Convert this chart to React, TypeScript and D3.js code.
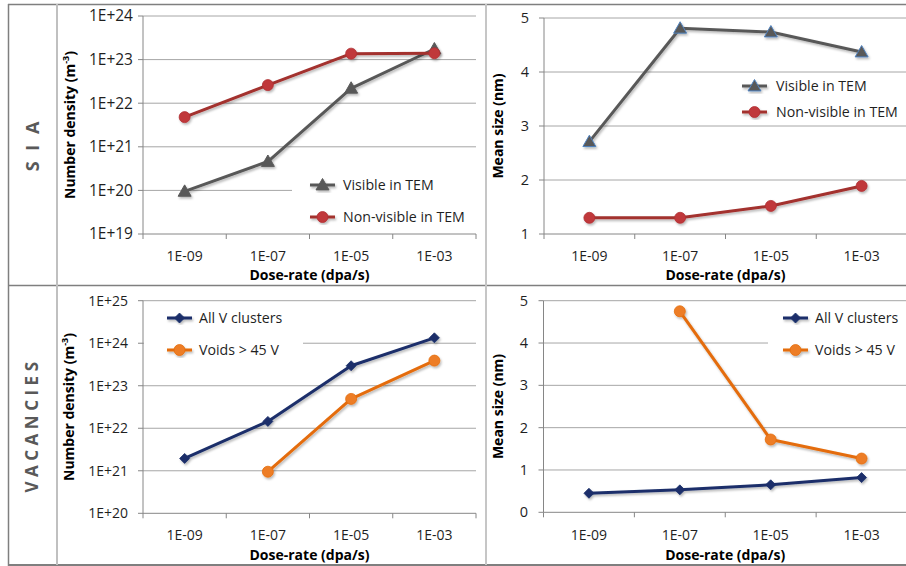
import React from "react";
import * as d3 from "d3";

const categories = ["1E-09", "1E-07", "1E-05", "1E-03"];

const siaDensityVisible = [9.5e19, 4.6e20, 2.2e22, 1.75e23];
const siaDensityNonVisible = [4.8e21, 2.6e22, 1.37e23, 1.4e23];
const siaSizeVisible = [2.71, 4.81, 4.74, 4.37];
const siaSizeNonVisible = [1.3, 1.3, 1.52, 1.89];

const vacDensityAll = [1.95e21, 1.45e22, 2.95e23, 1.34e24];
const vacDensityVoids = [null, 9.5e20, 4.9e22, 3.9e23];
const vacSizeAll = [0.45, 0.53, 0.65, 0.82];
const vacSizeVoids = [null, 4.75, 1.72, 1.27];

const siaDensityTicks = [1e19, 1e20, 1e21, 1e22, 1e23, 1e24];
const vacDensityTicks = [1e20, 1e21, 1e22, 1e23, 1e24, 1e25];
const sizeTicksSia = [1, 2, 3, 4, 5];
const sizeTicksVac = [0, 1, 2, 3, 4, 5];

const legendVisible = "Visible in TEM";
const legendNonVisible = "Non-visible in TEM";
const legendAll = "All V clusters";
const legendVoids = "Voids > 45 V";
const xTitle = "Dose-rate (dpa/s)";

const FONT = "'Open Sans', 'Liberation Sans', sans-serif";
const GRID = "#a6a6a6";
const AXIS = "#868686";
const TEXT = "#1f1f1f";

type Marker = "triangle" | "circle" | "diamond";
type Series = {
  name: string;
  values: (number | null)[];
  line: string;
  fill: string;
  stroke: string;
  marker: Marker;
};

const fmtExp = (v: number) => "1E+" + Math.round(Math.log10(v));

function MarkerShape({ kind, x, y, fill, stroke }: { kind: Marker; x: number; y: number; fill: string; stroke: string }) {
  if (kind === "circle") return <circle cx={x} cy={y} r={5.5} fill={fill} stroke={stroke} strokeWidth={0.8} />;
  if (kind === "triangle") {
    const s = 6.5;
    return (
      <path
        d={`M${x},${y - s} L${x + s},${y + s * 0.75} L${x - s},${y + s * 0.75} Z`}
        fill={fill}
        stroke={stroke}
        strokeWidth={1}
      />
    );
  }
  const s = 5;
  return <path d={`M${x},${y - s} L${x + s},${y} L${x},${y + s} L${x - s},${y} Z`} fill={fill} stroke={stroke} strokeWidth={0.8} />;
}

type PanelProps = {
  x0: number;
  x1: number;
  yBottom: number;
  yTop: number;
  log: boolean;
  domain: [number, number];
  ticks: number[];
  tickLabelX: number;
  tickFont: number;
  yTitle: React.ReactNode;
  yTitleX: number;
  xTickY: number;
  xTitleY: number;
  series: Series[];
  legend: { lineX: number; textX: number; y1: number; y2: number; rect: [number, number, number, number] };
};

function Panel(p: PanelProps) {
  const xs = d3.scaleBand<string>().domain(categories).range([p.x0, p.x1]).padding(0);
  const ys = p.log
    ? d3.scaleLog().domain(p.domain).range([p.yBottom, p.yTop])
    : d3.scaleLinear().domain(p.domain).range([p.yBottom, p.yTop]);
  const cx = (c: string) => (xs(c) as number) + xs.bandwidth() / 2;
  const boundaries = categories.map((c) => xs(c) as number).concat([p.x1]);
  const [lx, ly, lw, lh] = p.legend.rect;
  const midY = (p.yTop + p.yBottom) / 2;

  return (
    <g>
      {p.ticks.map((t) => (
        <g key={"g" + t}>
          <line x1={p.x0} x2={p.x1} y1={ys(t)} y2={ys(t)} stroke={t === p.domain[0] ? AXIS : GRID} strokeWidth={1} />
          <line x1={p.x0 - 5} x2={p.x0} y1={ys(t)} y2={ys(t)} stroke={AXIS} strokeWidth={1} />
          <text x={p.tickLabelX} y={ys(t)} dy="0.35em" textAnchor="end" fontSize={p.tickFont} fill={TEXT}>
            {p.log ? fmtExp(t) : String(t)}
          </text>
        </g>
      ))}
      <rect x={lx} y={ly} width={lw} height={lh} fill="#fff" />
      <line x1={p.x0} x2={p.x0} y1={p.yTop} y2={p.yBottom} stroke={AXIS} strokeWidth={1} />
      {boundaries.map((b, i) => (
        <line key={"xt" + i} x1={b} x2={b} y1={p.yBottom} y2={p.yBottom + 5} stroke={AXIS} strokeWidth={1} />
      ))}
      {categories.map((c) => (
        <text key={"xl" + c} x={cx(c)} y={p.xTickY} dy="0.35em" textAnchor="middle" fontSize={14} fill={TEXT}>
          {c}
        </text>
      ))}
      <text x={(p.x0 + p.x1) / 2} y={p.xTitleY} dy="0.35em" textAnchor="middle" fontSize={14} fontWeight="bold" fill="#000">
        {xTitle}
      </text>
      <text
        transform={`translate(${p.yTitleX},${midY}) rotate(-90)`}
        dy="0.35em"
        textAnchor="middle"
        fontSize={14}
        fontWeight="bold"
        fill="#000"
      >
        {p.yTitle}
      </text>
      {p.series.map((s) => {
        const pts = categories
          .map((c, i) => ({ c, v: s.values[i] }))
          .filter((d) => d.v !== null) as { c: string; v: number }[];
        const gen = d3
          .line<{ c: string; v: number }>()
          .x((d) => cx(d.c))
          .y((d) => ys(d.v) as number);
        return (
          <g key={s.name} filter="url(#shadow)">
            <path d={gen(pts) || ""} fill="none" stroke={s.line} strokeWidth={3} strokeLinejoin="round" />
            {pts.map((d) => (
              <MarkerShape key={d.c} kind={s.marker} x={cx(d.c)} y={ys(d.v) as number} fill={s.fill} stroke={s.stroke} />
            ))}
          </g>
        );
      })}
      {p.series.map((s, i) => {
        const y = i === 0 ? p.legend.y1 : p.legend.y2;
        return (
          <g key={"leg" + s.name}>
            <g filter="url(#shadow)">
              <line x1={p.legend.lineX} x2={p.legend.lineX + 25} y1={y} y2={y} stroke={s.line} strokeWidth={3} />
              <MarkerShape kind={s.marker} x={p.legend.lineX + 12.5} y={y} fill={s.fill} stroke={s.stroke} />
            </g>
            <text x={p.legend.textX} y={y} dy="0.35em" fontSize={14.2} fill={TEXT}>
              {s.name}
            </text>
          </g>
        );
      })}
    </g>
  );
}

const densityTitle = (
  <>
    Number density (m
    <tspan fontSize={9} dy={-6}>
      -3
    </tspan>
    <tspan dy={6}>)</tspan>
  </>
);

export default function App() {
  const visible1: Series = { name: legendVisible, values: siaDensityVisible, line: "#595959", fill: "#595959", stroke: "#595959", marker: "triangle" };
  const nonVisible1: Series = { name: legendNonVisible, values: siaDensityNonVisible, line: "#a3302f", fill: "#c0373a", stroke: "#b03033", marker: "circle" };
  const visible2: Series = { name: legendVisible, values: siaSizeVisible, line: "#595959", fill: "#595959", stroke: "#4f81bd", marker: "triangle" };
  const nonVisible2: Series = { name: legendNonVisible, values: siaSizeNonVisible, line: "#a3302f", fill: "#c0373a", stroke: "#b03033", marker: "circle" };
  const all3: Series = { name: legendAll, values: vacDensityAll, line: "#1b2f6a", fill: "#1b2f6a", stroke: "#1b2f6a", marker: "diamond" };
  const voids3: Series = { name: legendVoids, values: vacDensityVoids, line: "#e46c0a", fill: "#ed7d27", stroke: "#e46c0a", marker: "circle" };
  const all4: Series = { ...all3, values: vacSizeAll };
  const voids4: Series = { ...voids3, values: vacSizeVoids };

  return (
    <svg
      width={906}
      height={566}
      style={{ position: "absolute", left: 0, top: 0, background: "#fff", fontFamily: FONT }}
    >
      <defs>
        <filter id="shadow" x="-20%" y="-20%" width="140%" height="140%">
          <feDropShadow dx={1.2} dy={1.8} stdDeviation={1.1} floodColor="#000" floodOpacity={0.28} />
        </filter>
      </defs>
      <rect x={0} y={0} width={906} height={566} fill="#fff" />

      <Panel
        x0={143}
        x1={476}
        yBottom={234}
        yTop={16}
        log={true}
        domain={[1e19, 1e24]}
        ticks={siaDensityTicks}
        tickLabelX={133}
        tickFont={15.5}
        yTitle={densityTitle}
        yTitleX={70}
        xTickY={256}
        xTitleY={275}
        series={[visible1, nonVisible1]}
        legend={{ lineX: 310, textX: 343, y1: 185, y2: 217, rect: [292, 168, 184, 62] }}
      />
      <Panel
        x0={544}
        x1={907}
        yBottom={234}
        yTop={18}
        log={false}
        domain={[1, 5]}
        ticks={sizeTicksSia}
        tickLabelX={529}
        tickFont={14.5}
        yTitle="Mean size (nm)"
        yTitleX={498}
        xTickY={256}
        xTitleY={275}
        series={[visible2, nonVisible2]}
        legend={{ lineX: 742, textX: 776, y1: 86, y2: 112, rect: [735, 75, 171, 48] }}
      />
      <Panel
        x0={143}
        x1={476}
        yBottom={513.3}
        yTop={300.7}
        log={true}
        domain={[1e20, 1e25]}
        ticks={vacDensityTicks}
        tickLabelX={128}
        tickFont={14}
        yTitle={densityTitle}
        yTitleX={69}
        xTickY={535}
        xTitleY={555}
        series={[all3, voids3]}
        legend={{ lineX: 167, textX: 199, y1: 318, y2: 350, rect: [144, 305, 159, 60] }}
      />
      <Panel
        x0={543.5}
        x1={907}
        yBottom={512.3}
        yTop={300.7}
        log={false}
        domain={[0, 5]}
        ticks={sizeTicksVac}
        tickLabelX={528}
        tickFont={14.5}
        yTitle="Mean size (nm)"
        yTitleX={498}
        xTickY={535}
        xTitleY={555}
        series={[all4, voids4]}
        legend={{ lineX: 783, textX: 815, y1: 318, y2: 350, rect: [768, 305, 138, 60] }}
      />

      <text
        transform="translate(33,145) rotate(-90)"
        dy="0.35em"
        textAnchor="middle"
        fontSize={18}
        fontWeight="bold"
        fill="#595959"
        letterSpacing={3}
      >
        S I A
      </text>
      <text
        transform="translate(32,425) rotate(-90)"
        dy="0.35em"
        textAnchor="middle"
        fontSize={17}
        fontWeight="bold"
        fill="#595959"
        letterSpacing={4.5}
      >
        VACANCIES
      </text>

      <line x1={8} x2={906} y1={4.5} y2={4.5} stroke="#7f7f7f" strokeWidth={1.5} />
      <line x1={8} x2={906} y1={285.5} y2={285.5} stroke="#7f7f7f" strokeWidth={1.5} />
      <line x1={8} x2={906} y1={565} y2={565} stroke="#7f7f7f" strokeWidth={2} />
      <line x1={8.5} x2={8.5} y1={4} y2={566} stroke="#7f7f7f" strokeWidth={1.5} />
      <line x1={57} x2={57} y1={4} y2={565} stroke="#c0c0c0" strokeWidth={2} />
      <line x1={486} x2={486} y1={4} y2={565} stroke="#c6c6c6" strokeWidth={2} />
    </svg>
  );
}
